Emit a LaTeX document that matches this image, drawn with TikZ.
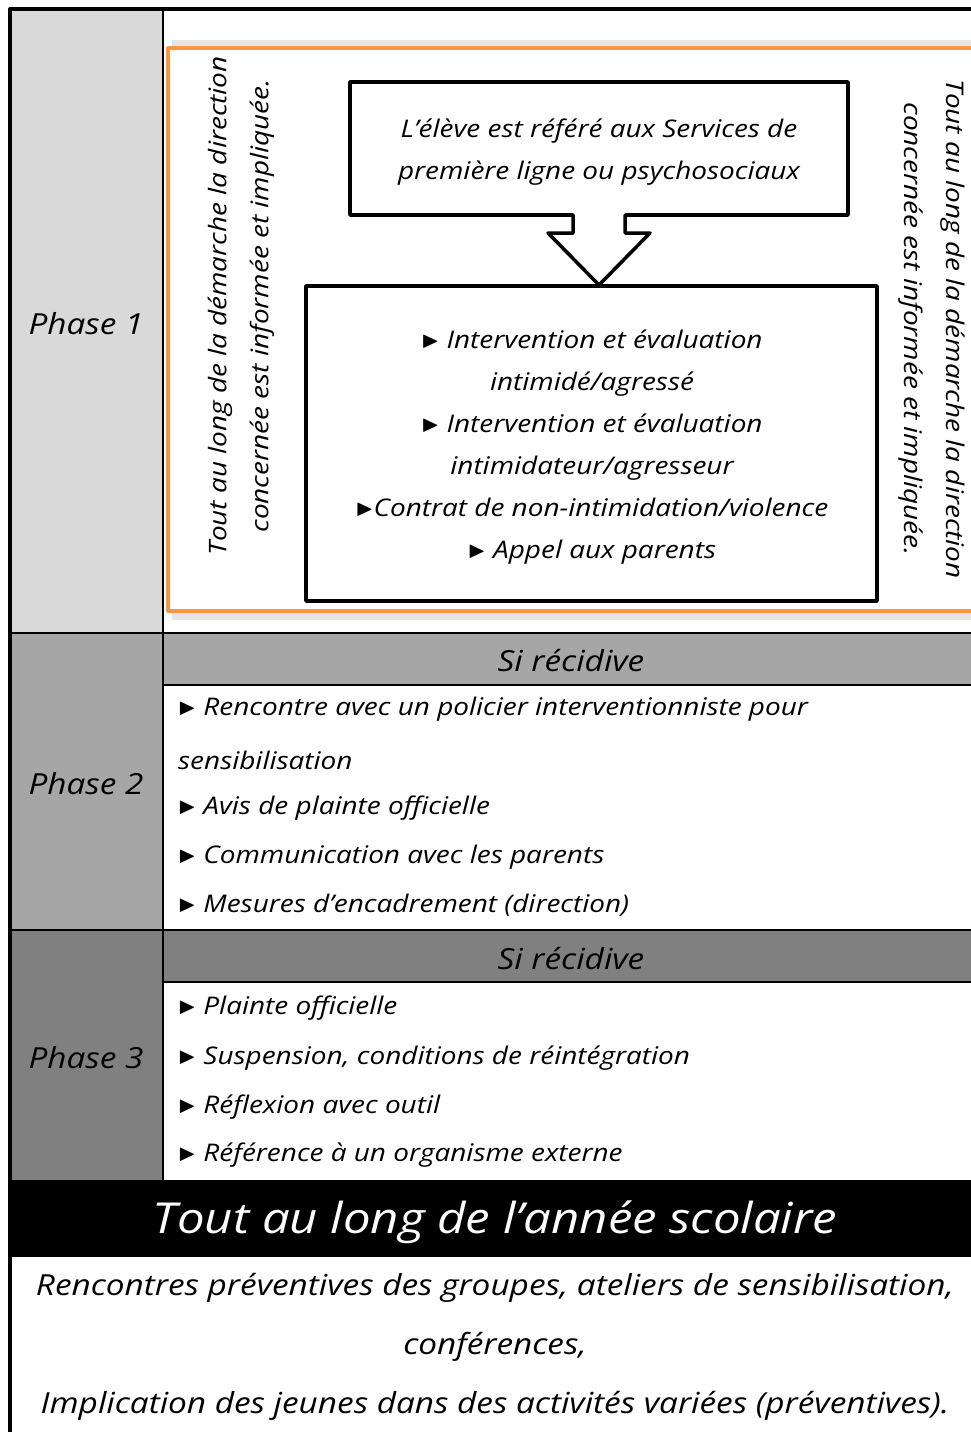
\documentclass[tikz,border=0pt]{standalone}
\usepackage{amssymb}
\usepackage{fontspec}
\setmainfont{Open Sans}[FakeStretch=1.15]
\usepackage{tikz}
\usetikzlibrary{positioning}
\definecolor{dzdzdz}{rgb}{0.85,0.85,0.85}
\definecolor{awawaw}{rgb}{0.65,0.65,0.65}
\definecolor{yqyqyq}{rgb}{0.5,0.5,0.5}
\definecolor{fxzwuw}{rgb}{0.97,0.59,0.27}
\definecolor{ewewew}{rgb}{0.9,0.9,0.9}
\newcommand{\puce}{\raisebox{0.1ex}{\scalebox{0.95}{$\blacktriangleright$}}}
\tikzset{
  txt/.style={font=\itshape\fontsize{24.3}{42}\selectfont,inner sep=0pt},
  item/.style={txt,anchor=west},
  phase/.style={font=\itshape\fontsize{29}{34}\selectfont,inner sep=0pt},
  boite/.style={draw,line width=3.5pt,fill=white,inner sep=0pt}
}

\begin{document}
\begin{tikzpicture}[line cap=round,line join=round,x=1pt,y=-1pt]
      \useasboundingbox (0,0) rectangle (971,1432);
      \clip (0,0) rectangle (971,1432);
      % fonds des cellules
      \fill[dzdzdz] (10,9) rectangle (163,633);
      \fill[awawaw] (10,633) rectangle (163,930);
      \fill[awawaw] (163,633) rectangle (971,685);
      \fill[yqyqyq] (10,930) rectangle (163,1180);
      \fill[yqyqyq] (163,930) rectangle (971,982);
      \fill[black] (10,1180) rectangle (971,1257);
      % cadre orange
      \fill[ewewew] (172,40) rectangle (990,620);
      \draw[fxzwuw,line width=4pt,fill=white] (168,48) rectangle (995,611);
      % lignes du tableau
      \draw[line width=1.8pt] (163,9) -- (163,1180);
      \draw[line width=1.8pt] (10,633) -- (971,633);
      \draw[line width=1.8pt] (163,685) -- (971,685);
      \draw[line width=1.8pt] (10,930) -- (971,930);
      \draw[line width=1.8pt] (163,982) -- (971,982);
      \draw[line width=4pt,line cap=butt] (10,1432) -- (10,9) -- (971,9);
      % phase 1
      \node[boite,minimum width=498pt,minimum height=133pt] (refere) at (599,148.5) {};
      \node[txt,align=center] (refere texte) at (599,152) {L'élève est référé aux Services de\\première ligne ou psychosociaux};
      \node[boite,minimum width=571pt,minimum height=315pt] (interv) at (591.5,443.5) {};
      \coordinate (pointe) at (599,285);
      \fill[white] (573,211) -- (573,233) -- (548,233) -- (pointe) -- (650,233) -- (625,233) -- (625,211) -- cycle;
      \draw[line width=3.5pt] (573,215) -- (573,233) -- (548,233) -- (pointe) -- (650,233) -- (625,233) -- (625,215);
      \node[txt,align=center] (interv texte) at (592,447) {\puce{} Intervention et évaluation\\intimidé/agressé\\\puce{} Intervention et évaluation\\intimidateur/agresseur\\\puce{}Contrat de non-intimidation/violence\\\puce{} Appel aux parents};
      \node[txt,align=center,rotate=90] (direction g) at (241,306) {Tout au long de la démarche la direction\\concernée est informée et impliquée.};
      \node[txt,align=center,rotate=-90] (direction d) at (931.5,329) {Tout au long de la démarche la direction\\concernée est informée et impliquée.};
      \node[phase] (phase1) at (86,324) {Phase 1};
      % phase 2
      \node[phase] (phase2) at (86,784) {Phase 2};
      \node[phase] (recidive2) at (571,661) {Si récidive};
      \node[item] (p2a) at (178,709) {\puce{} Rencontre avec un policier interventionniste pour};
      \node[item] (p2b) at (178,760) {sensibilisation};
      \node[item] (p2c) at (178,808) {\puce{} Avis de plainte officielle};
      \node[item] (p2d) at (178,857) {\puce{} Communication avec les parents};
      \node[item] (p2e) at (178,905) {\puce{} Mesures d'encadrement (direction)};
      % phase 3
      \node[phase] (phase3) at (86,1058) {Phase 3};
      \node[phase] (recidive3) at (571,959) {Si récidive};
      \node[item] (p3a) at (178,1008) {\puce{} Plainte officielle};
      \node[item] (p3b) at (178,1058) {\puce{} Suspension, conditions de réintégration};
      \node[item] (p3c) at (178,1107) {\puce{} Réflexion avec outil};
      \node[item] (p3d) at (178,1155) {\puce{} Référence à un organisme externe};
      % toute l'annee
      \node[font=\itshape\fontsize{42.7}{48}\selectfont,text=white,inner sep=0pt] (annee) at (495,1222) {Tout au long de l'année scolaire};
      \node[font=\itshape\fontsize{29}{59}\selectfont,align=center,inner sep=0pt] (prevention) at (495,1347) {Rencontres préventives des groupes, ateliers de sensibilisation,\\conférences,\\Implication des jeunes dans des activités variées (préventives).};
\end{tikzpicture}
\end{document}
